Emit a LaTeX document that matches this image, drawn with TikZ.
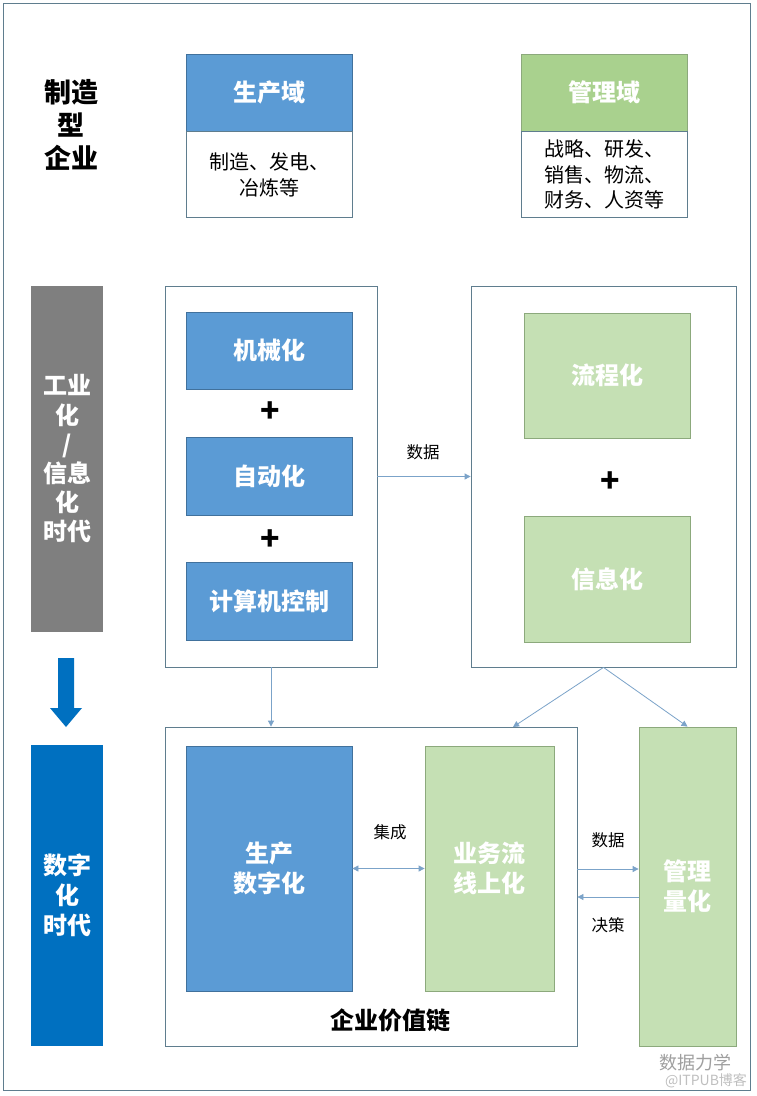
\documentclass[tikz,border=0pt]{standalone}
\usepackage{fontspec}
\setmainfont{Noto Sans CJK SC}
\usetikzlibrary{arrows.meta}
\definecolor{pblue}{HTML}{5B9BD5}
\definecolor{bline}{HTML}{41719C}
\definecolor{hgreen}{HTML}{A9D18E}
\definecolor{lgreen}{HTML}{C5E0B4}
\definecolor{gline}{HTML}{8CA97C}
\definecolor{pgray}{HTML}{7F7F7F}
\definecolor{dblue}{HTML}{0070C0}
\definecolor{fline}{HTML}{5F7D8E}
\definecolor{aline}{HTML}{7BA3C9}
\begin{document}
\begin{tikzpicture}[x=1pt,y=-1pt,
    sz/.style 2 args={minimum width=#1pt, minimum height=#2pt, inner sep=0pt},
    big/.style={font=\bfseries\fontsize{24}{30}\selectfont, align=center},
    blk/.style={draw=bline, line width=0.8pt, fill=pblue, text=white, big},
    grn/.style={draw=gline, line width=0.8pt, fill=lgreen, text=white, big},
    frm/.style={draw=fline, line width=0.8pt},
    txt/.style={font=\fontsize{20}{25.5}\selectfont},
    lbl/.style={font=\fontsize{16.5}{18}\selectfont},
    plus/.style={font=\bfseries\fontsize{32}{32}\selectfont},
    lnk/.style={draw=aline, line width=0.8pt, -{Triangle[length=6pt,width=6pt]}}]
    \useasboundingbox (0,0) rectangle (756,1096);
    \fill[white] (0,0) rectangle (756,1096);
    \draw[frm] (3,3) rectangle (750,1090);
    \node[font=\bfseries\fontsize{27}{33}\selectfont, align=center] (firm) at (71,125) {制造\\型\\企业};
    \node[blk, sz={166}{77}] (prodh) at (269,92.5) {生产域};
    \node[frm, sz={166}{86}, anchor=north, txt, align=center] (prodb) at (prodh.south) {制造、发电、\\冶炼等};
    \node[draw=gline, line width=0.8pt, fill=hgreen, text=white, big, sz={166}{77}] (mgmth) at (604,92.5) {管理域};
    \node[frm, sz={166}{86}, anchor=north, txt, align=left] (mgmtb) at (mgmth.south) {战略、研发、\\销售、物流、\\财务、人资等};
    \node[fill=pgray, text=white, sz={72}{346}, font=\bfseries\fontsize{24}{29.2}\selectfont, align=center] (induera) at (67,459) {工业\\化\\/\\信息\\化\\时代};
    \fill[dblue] (58,658) -- (74,658) -- (74,708) -- (82,708) -- (66,727) -- (50,708) -- (58,708) -- cycle;
    \node[fill=dblue, text=white, sz={72}{301}, font=\bfseries\fontsize{24}{30}\selectfont, align=center] (digera) at (67,895.5) {数字\\化\\时代};
    \node[frm, sz={212}{381}] (ind) at (271,476.5) {};
    \node[blk, sz={166}{77}] (mech) at (269,350.5) {机械化};
    \node[plus] (p1) at (270,412) {+};
    \node[blk, sz={166}{78}] (auto) at (269,476) {自动化};
    \node[plus] (p2) at (270,540) {+};
    \node[blk, sz={166}{78}] (comp) at (269,601) {计算机控制};
    \node[frm, sz={265}{381}] (info) at (603.5,476.5) {};
    \node[grn, sz={166}{125}] (flow) at (607,375.5) {流程化};
    \node[plus] (p3) at (610,482) {+};
    \node[grn, sz={166}{126}] (infoz) at (607,579) {信息化};
    \node[frm, sz={412}{319}] (chain) at (371,886.5) {};
    \node[blk, sz={166}{245}] (pd) at (269,868.5) {生产\\数字化};
    \node[grn, sz={129}{245}] (bp) at (489.5,868.5) {业务流\\线上化};
    \node[grn, sz={97}{319}] (mq) at (687.5,886.5) {管理\\量化};
    \node[font=\bfseries\fontsize{24}{24}\selectfont] (vc) at (390,1020) {企业价值链};
    \coordinate (bpin) at (513,727);
    \draw[lnk] (ind.east) -- (info.west);
    \node[lbl] (d1) at (423,452) {数据};
    \draw[lnk] (ind.south) -- (ind.south |- chain.north);
    \draw[lnk] (info.south) -- (bpin);
    \draw[lnk] (info.south) -- (mq.north);
    \draw[lnk, {Triangle[length=6pt,width=6pt]}-{Triangle[length=6pt,width=6pt]}] (pd.east) -- (bp.west);
    \node[lbl] (jc) at (390,832) {集成};
    \draw[lnk] ([yshift=17.5pt]chain.east) -- ([yshift=17.5pt]mq.west);
    \draw[lnk] ([yshift=-10.5pt]mq.west) -- ([yshift=-10.5pt]chain.east);
    \node[lbl] (d2) at (608,840) {数据};
    \node[lbl] (jd) at (608,925) {决策};
    \node[text=gray!75, font=\fontsize{18}{18}\selectfont] (wm1) at (695,1063) {数据力学};
    \node[text=gray!50, font=\fontsize{14}{14}\selectfont] (wm2) at (706,1081) {@ITPUB博客};
\end{tikzpicture}
\end{document}
